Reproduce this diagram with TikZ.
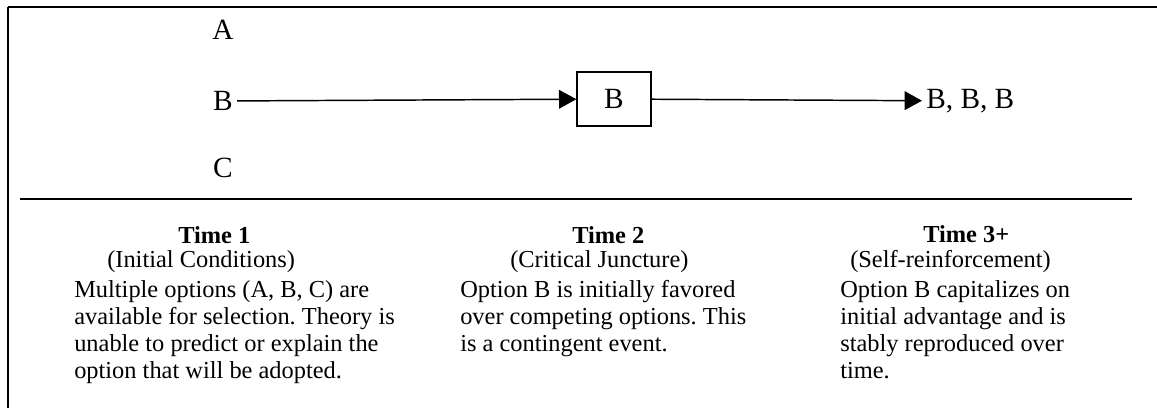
\documentclass[tikz,border=0pt]{standalone}
\usepackage{fontspec}
\setmainfont{Liberation Serif}
\usetikzlibrary{arrows.meta,positioning}

\tikzset{
  optlabel/.style={font=\fontsize{22}{26}\selectfont, inner sep=3pt},
  junctbox/.style={draw, line width=1.5pt, minimum width=55pt, minimum height=40pt, inner sep=0pt, font=\fontsize{22}{26}\selectfont},
  patharrow/.style={line width=1.1pt, -{Triangle[length=13pt,width=14pt]}},
  timehead/.style={font=\fontsize{18.3}{22}\selectfont\bfseries, anchor=west, inner sep=0pt},
  timesub/.style={font=\fontsize{18.3}{22}\selectfont, anchor=west, inner sep=0pt},
  timebody/.style={font=\fontsize{18.3}{20.25}\selectfont, align=left, anchor=north west, inner sep=0pt}
}

\begin{document}
\frenchspacing
\begin{tikzpicture}[x=0.75pt, y=-0.75pt]
  \useasboundingbox (0,0) rectangle (1157,408);

  % frame and divider
  \draw[line width=2.2pt] (8,7) -- (1157,7);
  \draw[line width=1.5pt] (8,7) -- (8,408);
  \draw[line width=1.5pt] (20,199) -- (1132,199);

  % options
  \node[optlabel] (optA) at (223,30) {A};
  \node[optlabel] (optB) at (223,101) {B};
  \node[optlabel] (optC) at (223,168) {C};
  \node[junctbox] (juncture) at (614,99) {B};
  \node[optlabel, anchor=west] (repeat) at (922,101) {B, B, B};

  \draw[patharrow] (optB) -- (juncture);
  \draw[patharrow] (juncture) -- (repeat);

  % Time 1
  \node[timehead] (t1) at (178,235) {Time 1};
  \node[timesub] (t1sub) at (107,262) {(Initial Conditions)};
  \node[timebody] (t1body) at (74,280) {Multiple options (A, B, C) are\\available for selection. Theory is\\unable to predict or explain the\\option that will be adopted.};

  % Time 2
  \node[timehead] (t2) at (572,235) {Time 2};
  \node[timesub] (t2sub) at (510,262) {(Critical Juncture)};
  \node[timebody] (t2body) at (460,280) {Option B is initially favored\\over competing options. This\\is a contingent event.};

  % Time 3+
  \node[timehead] (t3) at (923,234) {Time 3+};
  \node[timesub] (t3sub) at (850,262) {(Self-reinforcement)};
  \node[timebody] (t3body) at (840,280) {Option B capitalizes on\\initial advantage and is\\stably reproduced over\\time.};
\end{tikzpicture}
\end{document}
